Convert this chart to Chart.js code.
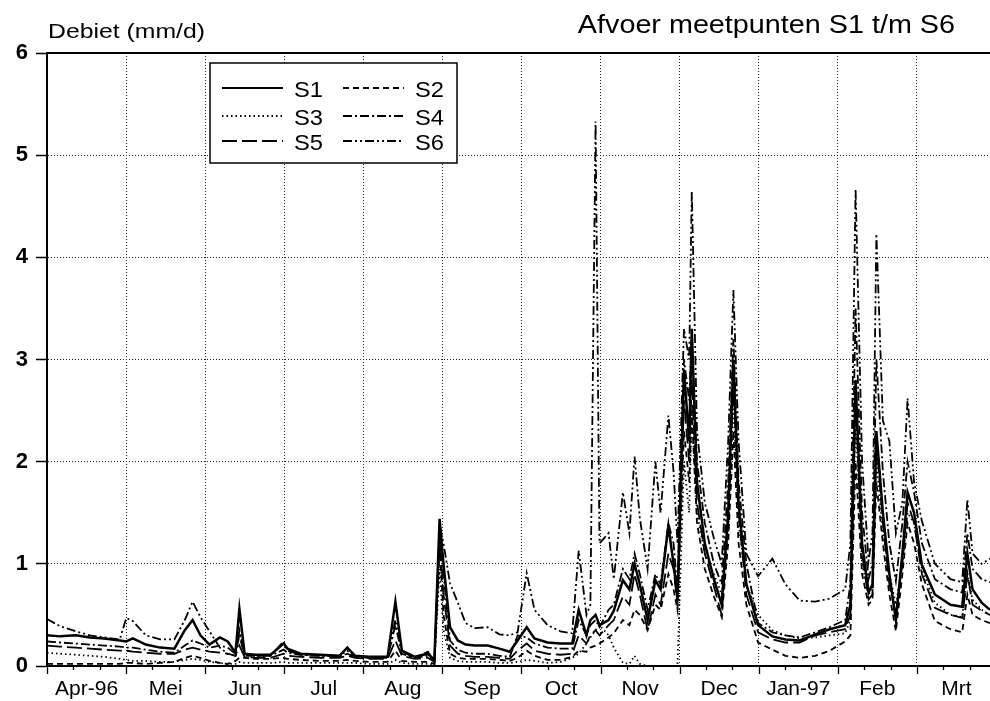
<!DOCTYPE html>
<html>
<head>
<meta charset="utf-8">
<script src="https://cdn.jsdelivr.net/npm/chart.js@4.4.1/dist/chart.umd.min.js"></script>
<style>
  html, body { margin: 0; padding: 0; background: #fff; }
  #wrap { width: 990px; height: 701px; }
</style>
</head>
<body>
<div id="wrap"><canvas id="c" width="990" height="701"></canvas></div>
<script>
// Afvoer (mm/d) van meetpunten S1 t/m S6, april 1996 - maart 1997.
// x = dagen vanaf 1 april 1996.
const monthLabels = ['Apr-96', 'Mei', 'Jun', 'Jul', 'Aug', 'Sep', 'Oct', 'Nov', 'Dec', 'Jan-97', 'Feb', 'Mrt'];
const seriesNames = ['S1', 'S2', 'S3', 'S4', 'S5', 'S6'];
const yTicks = [0, 1, 2, 3, 4, 5, 6];

const days = [
  0, 5, 11, 16.5, 22, 28, 30.5, 33, 38, 43.5,
  49, 53, 56, 59, 62.5, 66.5, 69.5, 72.5, 74, 76,
  80, 86, 91, 92.5, 97.5, 105, 112.5, 115.5, 118.5, 124,
  131, 134, 136.5, 141.5, 146.5, 149, 151, 152.5, 155, 158,
  161, 164.5, 169.5, 174, 178, 181, 184.5, 187.5, 192.5, 197.5,
  202, 204.5, 207.5, 209, 211, 212.5, 216, 218, 221.5, 224,
  226, 228, 231, 234, 236, 239, 241, 242.5, 245, 247,
  248, 250, 253, 256.5, 259.5, 262, 264, 266, 269, 273.5,
  279, 284, 289.5, 295.5, 301, 307, 309, 311, 313.5, 316,
  317.5, 319, 321.5, 324, 326.5, 329, 331, 333.5, 336.5, 341.5,
  347.5, 352, 354, 356, 359.5, 362.7
];

const s1 = [
  0.30, 0.29, 0.30, 0.28, 0.27, 0.25, 0.24, 0.27, 0.21, 0.18,
  0.17, 0.35, 0.45, 0.30, 0.21, 0.28, 0.24, 0.13, 0.56, 0.12,
  0.11, 0.11, 0.22, 0.17, 0.12, 0.11, 0.10, 0.18, 0.10, 0.09,
  0.09, 0.63, 0.15, 0.09, 0.12, 0.06, 1.44, 1.00, 0.38, 0.25,
  0.21, 0.20, 0.20, 0.17, 0.14, 0.25, 0.38, 0.27, 0.23, 0.22,
  0.22, 0.55, 0.30, 0.45, 0.50, 0.40, 0.45, 0.54, 0.84, 0.75,
  1.00, 0.80, 0.45, 0.84, 0.75, 1.37, 1.00, 0.66, 2.90, 2.20,
  3.30, 1.80, 1.20, 0.85, 0.60, 1.50, 3.00, 1.60, 0.80, 0.40,
  0.29, 0.26, 0.25, 0.31, 0.36, 0.40, 0.60, 2.80, 1.20, 0.72,
  0.80, 2.30, 1.50, 0.90, 0.45, 1.10, 1.70, 1.50, 0.99, 0.70,
  0.60, 0.58, 1.10, 0.75, 0.62, 0.55
];

const s2 = [
  0.02, 0.02, 0.02, 0.02, 0.02, 0.02, 0.03, 0.03, 0.02, 0.03,
  0.04, 0.08, 0.10, 0.08, 0.05, 0.03, 0.02, 0.05, 0.08, 0.08,
  0.07, 0.07, 0.08, 0.07, 0.06, 0.05, 0.05, 0.06, 0.05, 0.04,
  0.04, 0.15, 0.05, 0.04, 0.04, 0.02, 1.17, 0.50, 0.12, 0.08,
  0.07, 0.07, 0.07, 0.06, 0.05, 0.08, 0.15, 0.10, 0.06, 0.06,
  0.09, 0.15, 0.14, 0.18, 0.20, 0.22, 0.28, 0.32, 0.45, 0.40,
  0.55, 0.50, 0.35, 0.60, 0.55, 0.90, 0.75, 0.55, 2.30, 1.80,
  2.50, 1.40, 0.95, 0.68, 0.48, 1.20, 2.30, 1.20, 0.60, 0.23,
  0.16, 0.10, 0.08, 0.10, 0.15, 0.24, 0.30, 2.00, 0.90, 0.60,
  0.65, 1.80, 1.20, 0.70, 0.34, 0.90, 1.40, 1.20, 0.80, 0.44,
  0.36, 0.33, 0.70, 0.50, 0.45, 0.42
];

const s3 = [
  0.13, 0.12, 0.11, 0.10, 0.09, 0.07, 0.06, 0.05, 0.05, 0.04,
  0.04, 0.06, 0.07, 0.06, 0.04, 0.03, 0.02, 0.02, 0.04, 0.03,
  0.03, 0.03, 0.04, 0.03, 0.03, 0.03, 0.03, 0.03, 0.03, 0.02,
  0.02, 0.06, 0.03, 0.02, 0.02, 0.01, 0.95, 0.35, 0.08, 0.05,
  0.04, 0.04, 0.04, 0.03, 0.03, 0.04, 0.06, 0.05, 0.03, 0.04,
  0.08, 0.12, 0.22, 0.28, 0.35, 0.40, 0.30, 0.18, 0.03, 0.02,
  0.10, 0.02, 0.00, 0.00, 0.00, 0.00, 0.00, 0.00, 2.00, 1.50,
  2.50, 1.50, 1.10, 0.90, 0.70, 1.30, 2.60, 1.40, 0.80, 0.50,
  0.35, 0.30, 0.27, 0.28, 0.30, 0.32, 0.45, 2.40, 1.00, 0.70,
  0.75, 2.00, 1.30, 0.90, 0.60, 1.00, 1.50, 1.40, 0.95, 0.62,
  0.50, 0.48, 0.90, 0.65, 0.55, 0.50
];

const s4 = [
  0.24, 0.23, 0.22, 0.21, 0.20, 0.19, 0.18, 0.18, 0.16, 0.14,
  0.13, 0.20, 0.25, 0.22, 0.18, 0.20, 0.18, 0.12, 0.30, 0.10,
  0.10, 0.10, 0.16, 0.13, 0.11, 0.10, 0.09, 0.12, 0.09, 0.08,
  0.08, 0.40, 0.12, 0.08, 0.10, 0.05, 1.30, 0.90, 0.25, 0.16,
  0.13, 0.12, 0.12, 0.10, 0.09, 0.30, 0.28, 0.22, 0.18, 0.17,
  0.17, 0.45, 0.30, 0.40, 0.45, 0.38, 0.55, 0.60, 0.95, 0.85,
  1.10, 0.90, 0.55, 0.90, 0.80, 1.40, 1.20, 0.75, 3.00, 2.60,
  3.20, 2.00, 1.40, 1.00, 0.80, 1.80, 3.20, 1.80, 1.00, 0.42,
  0.33, 0.30, 0.28, 0.33, 0.38, 0.45, 0.80, 3.50, 1.50, 0.85,
  1.00, 3.00, 1.90, 1.20, 0.83, 1.40, 2.00, 1.70, 1.20, 0.85,
  0.75, 0.72, 1.30, 0.95, 0.85, 0.82
];

const s5 = [
  0.20, 0.19, 0.18, 0.17, 0.16, 0.15, 0.15, 0.14, 0.13, 0.12,
  0.12, 0.16, 0.18, 0.16, 0.14, 0.13, 0.12, 0.10, 0.20, 0.09,
  0.08, 0.08, 0.12, 0.10, 0.09, 0.08, 0.08, 0.10, 0.08, 0.07,
  0.07, 0.25, 0.10, 0.07, 0.08, 0.04, 1.25, 0.70, 0.20, 0.12,
  0.10, 0.09, 0.09, 0.08, 0.07, 0.15, 0.22, 0.15, 0.12, 0.11,
  0.12, 0.30, 0.22, 0.30, 0.35, 0.30, 0.40, 0.45, 0.68, 0.60,
  0.90, 0.70, 0.35, 0.70, 0.60, 1.10, 0.95, 0.60, 2.60, 2.00,
  2.80, 1.60, 1.10, 0.78, 0.50, 1.40, 2.80, 1.50, 0.70, 0.33,
  0.26, 0.23, 0.23, 0.30, 0.33, 0.36, 0.50, 2.60, 1.10, 0.65,
  0.70, 2.20, 1.40, 0.80, 0.50, 1.00, 1.60, 1.40, 0.90, 0.57,
  0.50, 0.47, 0.90, 0.60, 0.54, 0.50
];

const s6 = [
  0.46, 0.39, 0.34, 0.30, 0.28, 0.26, 0.47, 0.44, 0.30, 0.26,
  0.26, 0.45, 0.63, 0.48, 0.34, 0.18, 0.12, 0.10, 0.35, 0.12,
  0.10, 0.10, 0.24, 0.15, 0.11, 0.10, 0.10, 0.15, 0.09, 0.08,
  0.09, 0.45, 0.14, 0.08, 0.14, 0.05, 1.38, 1.20, 0.81, 0.62,
  0.42, 0.37, 0.38, 0.31, 0.30, 0.33, 0.91, 0.55, 0.40, 0.34,
  0.32, 1.13, 0.50, 0.60, 5.33, 1.20, 1.30, 0.85, 1.70, 1.30,
  2.05, 1.45, 0.95, 2.00, 1.50, 2.45, 1.90, 1.20, 3.30, 3.00,
  4.65, 2.30, 1.60, 1.25, 1.00, 2.20, 3.68, 2.20, 1.10, 0.88,
  1.05, 0.80, 0.64, 0.63, 0.66, 0.75, 1.20, 4.67, 2.00, 1.03,
  1.30, 4.23, 2.40, 2.20, 1.30, 1.60, 2.62, 1.80, 1.42, 1.00,
  0.85, 0.82, 1.63, 1.10, 1.00, 1.05
];

const seriesValues = [s1, s2, s3, s4, s5, s6];
const seriesDash = [[], [6, 4], [1.5, 3], [9, 3, 2, 3], [15, 5], [9, 3, 2, 3, 2, 3]];
const seriesWidth = [2.5, 1.8, 1.8, 1.8, 1.8, 1.8];

// Maandindeling: gelijke maandbreedte, streepjes per decade
const monthLen = 365 / 12;
const xMax = 362.7;
const xTickInfo = [];
for (let k = 0; k < 12; k++) {
  xTickInfo.push({ value: k * monthLen, kind: 'month' });
  xTickInfo.push({ value: (k + 1 / 3) * monthLen, kind: 'decade' });
  xTickInfo.push({ value: (k + 0.5) * monthLen, kind: 'label', text: monthLabels[k] });
  xTickInfo.push({ value: (k + 2 / 3) * monthLen, kind: 'decade' });
}
const xTicksUsed = xTickInfo.filter(t => t.value <= xMax);
function tickKind(v) {
  const t = xTicksUsed.find(t => Math.abs(t.value - v) < 1e-6);
  return t ? t : { kind: 'none' };
}

const FONT = '"Liberation Sans", Arial, Helvetica, sans-serif';

function stretchedText(ctx, text, x, y, size, sx, align, weight) {
  ctx.save();
  ctx.font = (weight || 'normal') + ' ' + size + 'px ' + FONT;
  ctx.textBaseline = 'alphabetic';
  ctx.textAlign = 'left';
  ctx.fillStyle = '#000';
  const w = ctx.measureText(text).width * sx;
  const left = align === 'right' ? x - w : x;
  ctx.translate(left, y);
  ctx.scale(sx, 1);
  ctx.fillText(text, 0, 0);
  ctx.restore();
}

const framePlugin = {
  id: 'frame',
  afterDraw(chart) {
    const { ctx, chartArea: a, scales } = chart;
    const xs = scales.x;
    ctx.save();
    // bovenrand
    ctx.strokeStyle = '#000';
    ctx.lineWidth = 2;
    ctx.beginPath();
    ctx.moveTo(a.left, a.top);
    ctx.lineTo(a.right, a.top);
    ctx.stroke();
    // maand- en decadestreepjes onder de x-as
    ctx.lineWidth = 1.3;
    xTicksUsed.forEach(t => {
      if (t.kind === 'label') return;
      const px = Math.round(xs.getPixelForValue(t.value)) + 0.5;
      const len = t.kind === 'month' ? 8 : 4;
      ctx.beginPath();
      ctx.moveTo(px, a.bottom);
      ctx.lineTo(px, a.bottom + len);
      ctx.stroke();
    });
    ctx.restore();

    // titels
    stretchedText(ctx, 'Debiet (mm/d)', 48, 38, 21, 1.18, 'left');
    stretchedText(ctx, 'Afvoer meetpunten S1 t/m S6', 955, 33, 25, 1.15, 'right');

    // legenda
    const bx = a.left + 163, by = a.top + 10, bw = 247, bh = 100;
    ctx.save();
    ctx.fillStyle = '#fff';
    ctx.fillRect(bx, by, bw, bh);
    ctx.strokeStyle = '#000';
    ctx.lineWidth = 1.5;
    ctx.strokeRect(bx, by, bw, bh);
    const rows = [by + 25, by + 53, by + 78];
    const cols = [bx + 12, bx + 133];
    chart.data.datasets.forEach((ds, i) => {
      const r = Math.floor(i / 2), c = i % 2;
      const y = rows[r], x = cols[c];
      ctx.save();
      ctx.strokeStyle = '#000';
      ctx.lineWidth = Math.min(ds.borderWidth, 1.8);
      ctx.setLineDash(ds.borderDash || []);
      ctx.beginPath();
      ctx.moveTo(x, y);
      ctx.lineTo(x + 61, y);
      ctx.stroke();
      ctx.restore();
      stretchedText(ctx, ds.label, x + 72, y + 9, 22, 1.08, 'left');
    });
    ctx.restore();
  }
};

const datasets = seriesNames.map((name, i) => ({
  label: name,
  data: days.map((d, j) => ({ x: d, y: seriesValues[i][j] })),
  borderColor: '#000',
  borderWidth: seriesWidth[i],
  borderDash: seriesDash[i],
  pointRadius: 0,
  fill: false,
  tension: 0
}));

new Chart(document.getElementById('c'), {
  type: 'line',
  data: { datasets },
  plugins: [framePlugin],
  options: {
    responsive: false,
    animation: false,
    devicePixelRatio: 1,
    layout: { padding: { top: 53, left: 0, right: 0, bottom: 0 } },
    plugins: { legend: { display: false }, tooltip: { enabled: false } },
    scales: {
      x: {
        type: 'linear',
        min: 0,
        max: xMax,
        afterBuildTicks(scale) {
          scale.ticks = xTicksUsed.map(t => ({ value: t.value }));
        },
        afterFit(scale) { scale.height = 35; },
        ticks: {
          autoSkip: false,
          maxRotation: 0,
          padding: 11,
          color: '#000',
          font: { family: FONT, size: 21 },
          callback(v) {
            const t = tickKind(v);
            return t.kind === 'label' ? t.text : '';
          }
        },
        grid: {
          drawTicks: false,
          lineWidth: 1,
          color(ctx) {
            if (!ctx.tick) return 'rgba(0,0,0,0)';
            return tickKind(ctx.tick.value).kind === 'month' ? '#222' : 'rgba(0,0,0,0)';
          }
        },
        border: { display: true, color: '#000', width: 2, dash: [1, 2] }
      },
      y: {
        min: 0,
        max: 6,
        afterBuildTicks(scale) {
          scale.ticks = yTicks.map(v => ({ value: v }));
        },
        afterFit(scale) { scale.width = 47; },
        ticks: {
          padding: 8,
          color: '#000',
          font: { family: FONT, size: 22, weight: 'bold' }
        },
        grid: {
          drawTicks: true,
          tickLength: 11,
          tickWidth: 1.5,
          tickColor: '#000',
          tickBorderDash: [],
          lineWidth: 1,
          color(ctx) {
            if (!ctx.tick) return 'rgba(0,0,0,0)';
            const v = ctx.tick.value;
            return (v === 0 || v === 6) ? 'rgba(0,0,0,0)' : '#222';
          }
        },
        border: { display: true, color: '#000', width: 2, dash: [1, 2] }
      }
    }
  }
});
</script>
</body>
</html>
